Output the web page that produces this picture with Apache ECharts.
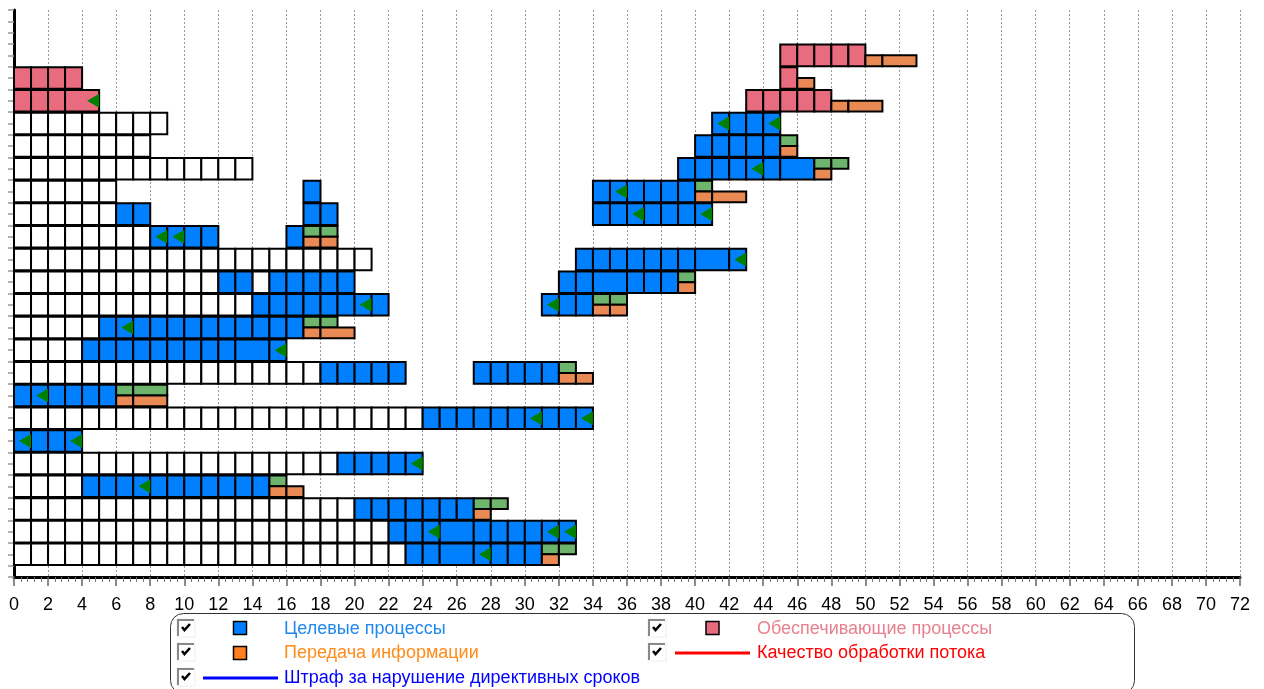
<!DOCTYPE html>
<html>
<head>
<meta charset="utf-8">
<script src="https://cdn.jsdelivr.net/npm/echarts@6/dist/echarts.min.js"></script>
<style>
html,body{margin:0;padding:0;background:#fff;}
#chart{width:1264px;height:689px;}
</style>
</head>
<body>
<div id="chart"></div>
<script>
// ---- DATA ----
// rows are numbered from the top (1) to the bottom (23)
// each run: [row, start, [cell widths...]]
const xTicks = [0, 72, 2];
const waitRuns = [
  [4,0,[1,1,1,1,1,1,1,1,1]],
  [5,0,[1,1,1,1,1,1,1,1]],
  [6,0,[1,1,1,1,1,1,1,1,1,1,1,1,1,1]],
  [7,0,[1,1,1,1,1,1]],
  [8,0,[1,1,1,1,1,1]],
  [9,0,[1,1,1,1,1,1,1,1]],
  [10,0,[1,1,1,1,1,1,1,1,1,1,1,1,1,1,1,1,1,1,1,1,1]],
  [11,0,[1,1,1,1,1,1,1,1,1,1,1,1]],
  [11,14,[1]],
  [12,0,[1,1,1,1,1,1,1,1,1,1,1,1,1,1]],
  [13,0,[1,1,1,1,1]],
  [14,0,[1,1,1,1]],
  [15,0,[1,1,1,1,1,1,1,1,1,1,1,1,1,1,1,1,1,1]],
  [17,0,[1,1,1,1,1,1,1,1,1,1,1,1,1,1,1,1,1,1,1,1,1,1,1,1]],
  [19,0,[1,1,1,1,1,1,1,1,1,1,1,1,1,1,1,1,1,1,1]],
  [20,0,[1,1,1,1]],
  [21,0,[1,1,1,1,1,1,1,1,1,1,1,1,1,1,1,1,1,1,1,1]],
  [22,0,[1,1,1,1,1,1,1,1,1,1,1,1,1,1,1,1,1,1,1,1,1,1]],
  [23,0,[1,1,1,1,1,1,1,1,1,1,1,1,1,1,1,1,1,1,1,1,1,1,1]]
];
const targetRuns = [
  [4,41,[1,1,1,1]],
  [5,40,[1,1,1,1,1]],
  [6,39,[1,1,1,1,1,1,2]],
  [7,17,[1]],
  [7,34,[1,1,1,1,1,1]],
  [8,6,[1,1]],
  [8,17,[1,1]],
  [8,34,[1,1,1,1,1,1,1]],
  [9,8,[1,1,1,1]],
  [9,16,[1]],
  [10,33,[1,1,1,1,1,1,1,2,1]],
  [11,12,[1,1]],
  [11,15,[1,1,1,1,1]],
  [11,32,[1,1,2,1,1,1]],
  [12,14,[1,1,1,1,1,1,1,1]],
  [12,31,[1,1,1]],
  [13,5,[1,1,1,1,1,1,1,1,1,1,1,1]],
  [14,4,[1,1,1,1,1,1,1,1,1,2,1]],
  [15,18,[1,1,1,1,1]],
  [15,27,[1,1,1,1,1]],
  [16,0,[1,1,1,1,1,1]],
  [17,24,[1,1,1,1,1,1,1,1,1,1]],
  [18,0,[1,1,1,1]],
  [19,19,[1,1,1,1,1]],
  [20,4,[1,1,1,1,1,1,1,1,1,1,1]],
  [21,20,[1,1,1,1,1,1,1]],
  [22,22,[1,1,1,2,1,1,1,1,1,1]],
  [23,23,[1,1,2,1,1,1,1]]
];
const supportRuns = [
  [1,45,[1,1,1,1,1]],
  [2,0,[1,1,1,1]],
  [2,45,[1]],
  [3,0,[1,1,1,2]],
  [3,43,[1,1,1,1,1]]
];
const infoRuns = [
  [1,50,[1,2]],
  [2,46,[1]],
  [3,48,[1,2]],
  [5,45,[1]],
  [6,47,[1]],
  [7,40,[1,2]],
  [9,17,[1,1]],
  [11,39,[1]],
  [12,34,[1,1]],
  [13,17,[1,2]],
  [15,32,[1,1]],
  [16,6,[1,2]],
  [20,15,[1,1]],
  [21,27,[1]],
  [23,31,[1]]
];
const reserveRuns = [
  [5,45,[1]],
  [6,47,[1,1]],
  [7,40,[1]],
  [9,17,[1,1]],
  [11,39,[1]],
  [12,34,[1,1]],
  [13,17,[1,1]],
  [15,32,[1]],
  [16,6,[1,2]],
  [20,15,[1]],
  [21,27,[1,1]],
  [23,31,[1,1]]
];
// deadline markers: [row, time]
const deadlines = [
  [3,5],[4,42],[4,45],[6,44],[7,36],[8,37],[8,41],[9,9],[9,10],[10,43],
  [12,21],[12,32],[13,7],[14,16],[16,2],[17,31],[17,34],[18,1],[18,4],
  [19,24],[20,8],[22,25],[22,32],[22,33],[23,28]
];
const rowCount = 23;
const legendNames = ['Целевые процессы','Обеспечивающие процессы','Передача информации','Качество обработки потока','Штраф за нарушение директивных сроков'];

// ---- helpers ----
function toCells(runs){
  const out = [];
  runs.forEach(function(r){
    let x = r[1];
    r[2].forEach(function(w){ out.push([x, x + w, rowCount + 1 - r[0]]); x += w; });
  });
  return out;
}
const HALF = 0.475;
function cellSeries(name, runs, color, part){
  return {
    type:'custom', name:name, data:toCells(runs), silent:true,
    encode:{x:[0,1], y:2},
    renderItem:function(params, api){
      const x0 = api.value(0), x1 = api.value(1), r = api.value(2);
      let yt = r + HALF, yb = r - HALF;
      if (part === 'top') yb = r;
      if (part === 'bottom') yt = r;
      const p0 = api.coord([x0, yt]), p1 = api.coord([x1, yb]);
      return {type:'rect', shape:{x:p0[0], y:p0[1], width:p1[0]-p0[0], height:p1[1]-p0[1]},
        style:{fill:color, stroke:'#000', lineWidth:2}};
    }
  };
}
const chart = echarts.init(document.getElementById('chart'));
const F = 'Liberation Sans, Arial, sans-serif';

// legend graphics
const g = [];
g.push({type:'rect', shape:{x:170.5, y:613.5, width:964, height:80, r:13}, style:{fill:'none', stroke:'#333', lineWidth:1}});
function checkbox(x, y){
  g.push({type:'rect', shape:{x:x, y:y, width:18, height:18}, style:{fill:'#fff', stroke:'#eee', lineWidth:1}});
  g.push({type:'polyline', shape:{points:[[x+1,y+17],[x+1,y+1],[x+17,y+1]]}, style:{stroke:'#888', lineWidth:2, fill:'none'}});
  g.push({type:'polyline', shape:{points:[[x+5,y+8],[x+7.5,y+11],[x+13,y+5]]}, style:{stroke:'#000', lineWidth:2.5, fill:'none'}});
}
function square(x, y, color){
  g.push({type:'rect', shape:{x:x, y:y, width:13, height:13}, style:{fill:color, stroke:'#000', lineWidth:1.5}});
}
function line(x1, x2, y, color){
  g.push({type:'line', shape:{x1:x1, y1:y, x2:x2, y2:y}, style:{stroke:color, lineWidth:3}});
}
function label(x, y, text, color){
  g.push({type:'text', x:x, y:y, style:{text:text, fill:color, font:'18px ' + F, textVerticalAlign:'middle', textBaseline:'middle'}});
}
checkbox(177, 619); square(233.5, 621.5, '#0080ff'); label(284, 629, legendNames[0], '#1e88f0');
checkbox(648, 619); square(706, 621.5, '#e96b7e'); label(757, 629, legendNames[1], '#e8808f');
checkbox(177, 643); square(233.5, 646.5, '#ff8020'); label(284, 653, legendNames[2], '#ff8c1a');
checkbox(648, 643); line(675, 750, 653, '#ff0000'); label(757, 653, legendNames[3], '#ff0000');
checkbox(177, 668); line(203, 278, 678, '#0000ff'); label(284, 678, legendNames[4], '#0000ff');

chart.setOption({
  animation:false,
  backgroundColor:'#fff',
  grid:{left:14, right:24, top:10, bottom:112},
  xAxis:{type:'value', min:xTicks[0], max:xTicks[1], interval:xTicks[2],
    axisLine:{show:true, onZero:false, lineStyle:{color:'#000', width:3}},
    axisTick:{show:true, length:9, lineStyle:{color:'#666', width:1.5}},
    minorTick:{show:true, splitNumber:5, length:5, lineStyle:{color:'#777', width:1}},
    splitLine:{show:true, lineStyle:{color:'#999', type:[2,2], width:1}},
    axisLabel:{fontSize:18, color:'#000', margin:19, fontFamily:F}
  },
  yAxis:{type:'value', min:0, max:rowCount + 2, interval:0.5,
    axisLine:{show:true, onZero:false, lineStyle:{color:'#000', width:3}},
    axisTick:{show:true, length:6, lineStyle:{color:'#999', width:1.5}},
    axisLabel:{show:false}, splitLine:{show:false}
  },
  graphic:g,
  series:[
    cellSeries('Ожидание', waitRuns, '#ffffff', 'full'),
    cellSeries(legendNames[0], targetRuns, '#0080ff', 'full'),
    cellSeries(legendNames[1], supportRuns, '#e96b7e', 'full'),
    cellSeries('Резерв', reserveRuns, '#6db56d', 'top'),
    cellSeries(legendNames[2], infoRuns, '#e98a55', 'bottom'),
    {type:'custom', name:'Директивный срок', data:deadlines.map(function(d){return [d[1], rowCount + 1 - d[0]];}),
      encode:{x:0, y:1}, silent:true,
      renderItem:function(params, api){
        const b = api.value(0), r = api.value(1);
        const pa = api.coord([b, r + 0.31]), pb = api.coord([b, r - 0.31]), pc = api.coord([b - 0.7, r]);
        return {type:'polygon', shape:{points:[pa, pb, pc]}, style:{fill:'#008000'}};
      }
    }
  ]
});
</script>
</body>
</html>
